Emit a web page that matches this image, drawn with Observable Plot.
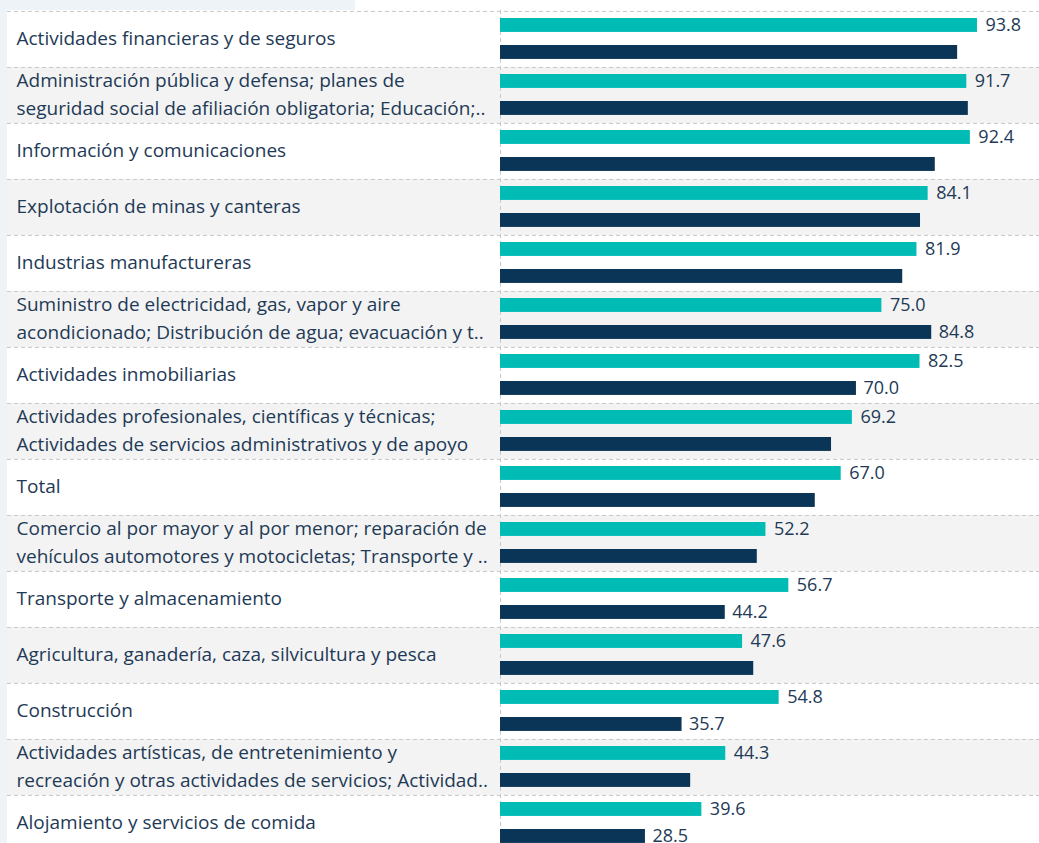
<!DOCTYPE html>
<html>
<head>
<meta charset="utf-8">
<script src="https://cdn.jsdelivr.net/npm/d3@7"></script>
<script src="https://cdn.jsdelivr.net/npm/@observablehq/plot@0.6"></script>
<style>
  html, body { margin: 0; padding: 0; background: #ffffff; overflow: hidden; }
  #wrap { position: relative; width: 1039px; height: 843px; overflow: hidden; }
  .deco-left { position: absolute; left: 0; top: 0; width: 7px; height: 843px; background: #eef3f8; }
  .deco-top { position: absolute; left: 0; top: 0; width: 355px; height: 10px; background: #eef3f8; }
  #chart { position: absolute; left: 0; top: 0; }
</style>
</head>
<body>
<div id="wrap">
  <div class="deco-left"></div>
  <div class="deco-top"></div>
  <div id="chart"></div>
</div>
<script>
const categories = [
  "Actividades financieras y de seguros",
  "Administración pública y defensa; planes de\nseguridad social de afiliación obligatoria; Educación;..",
  "Información y comunicaciones",
  "Explotación de minas y canteras",
  "Industrias manufactureras",
  "Suministro de electricidad, gas, vapor y aire\nacondicionado; Distribución de agua; evacuación y t..",
  "Actividades inmobiliarias",
  "Actividades profesionales, científicas y técnicas;\nActividades de servicios administrativos y de apoyo",
  "Total",
  "Comercio al por mayor y al por menor; reparación de\nvehículos automotores y motocicletas; Transporte y ..",
  "Transporte y almacenamiento",
  "Agricultura, ganadería, caza, silvicultura y pesca",
  "Construcción",
  "Actividades artísticas, de entretenimiento y\nrecreación y otras actividades de servicios; Actividad..",
  "Alojamiento y servicios de comida"
];
const seriesA = [93.8, 91.7, 92.4, 84.1, 81.9, 75.0, 82.5, 69.2, 67.0, 52.2, 56.7, 47.6, 54.8, 44.3, 39.6];
const seriesB = [89.9, 92.0, 85.5, 82.6, 79.1, 84.8, 70.0, 65.1, 61.9, 50.5, 44.2, 49.8, 35.7, 37.4, 28.5];
const showLabelB = [false, false, false, false, false, true, true, false, false, false, true, false, true, false, true];

const colorA = "#00bcb4";
const colorB = "#0b3556";
const textColor = "#1e3a56";

const rows = categories.map((cat, i) => ({
  cat, a: seriesA[i], b: seriesB[i], showB: showLabelB[i], shaded: i % 2 === 1
}));

const W = 1039, H = 860, mt = 10, mb = 9;
const rowH = (H - mt - mb) / categories.length;

const chart = Plot.plot({
  width: W,
  height: H,
  marginTop: mt,
  marginBottom: mb,
  marginLeft: 7,
  marginRight: 0,
  style: { background: "transparent", fontFamily: "'Open Sans', sans-serif", fontSize: "18px", color: textColor },
  x: { domain: [0, 100], range: [500, 1008.5], axis: null },
  y: { domain: categories, padding: 0, axis: null },
  marks: [
    Plot.cell(rows.filter(d => d.shaded), { y: "cat", fill: "#f3f3f3" }),
    Plot.ruleY(categories, { dy: -rowH / 2, stroke: "#c8c8c8", strokeDasharray: "4,3", strokeWidth: 1 }),
    Plot.ruleX([0], { stroke: "#c8c8c8", strokeDasharray: "4,3", strokeWidth: 1 }),
    Plot.barX(rows, { x: "a", y: "cat", fill: colorA, insetTop: 7, insetBottom: rowH - 21 }),
    Plot.barX(rows, { x: "b", y: "cat", fill: colorB, insetTop: 34, insetBottom: rowH - 48 }),
    Plot.text(rows, { y: "cat", text: "cat", frameAnchor: "left", dx: 9, dy: -3, textAnchor: "start", lineAnchor: "middle", lineHeight: 1.47, fontSize: 19, fill: textColor }),
    Plot.text(rows, { x: "a", y: "cat", text: d => d.a.toFixed(1), dx: 8, dy: -14, textAnchor: "start", fontSize: 18, fill: textColor }),
    Plot.text(rows.filter(d => d.showB), { x: "b", y: "cat", text: d => d.b.toFixed(1), dx: 7, dy: 13, textAnchor: "start", fontSize: 18, fill: textColor })
  ]
});
document.getElementById("chart").appendChild(chart);
</script>
</body>
</html>
